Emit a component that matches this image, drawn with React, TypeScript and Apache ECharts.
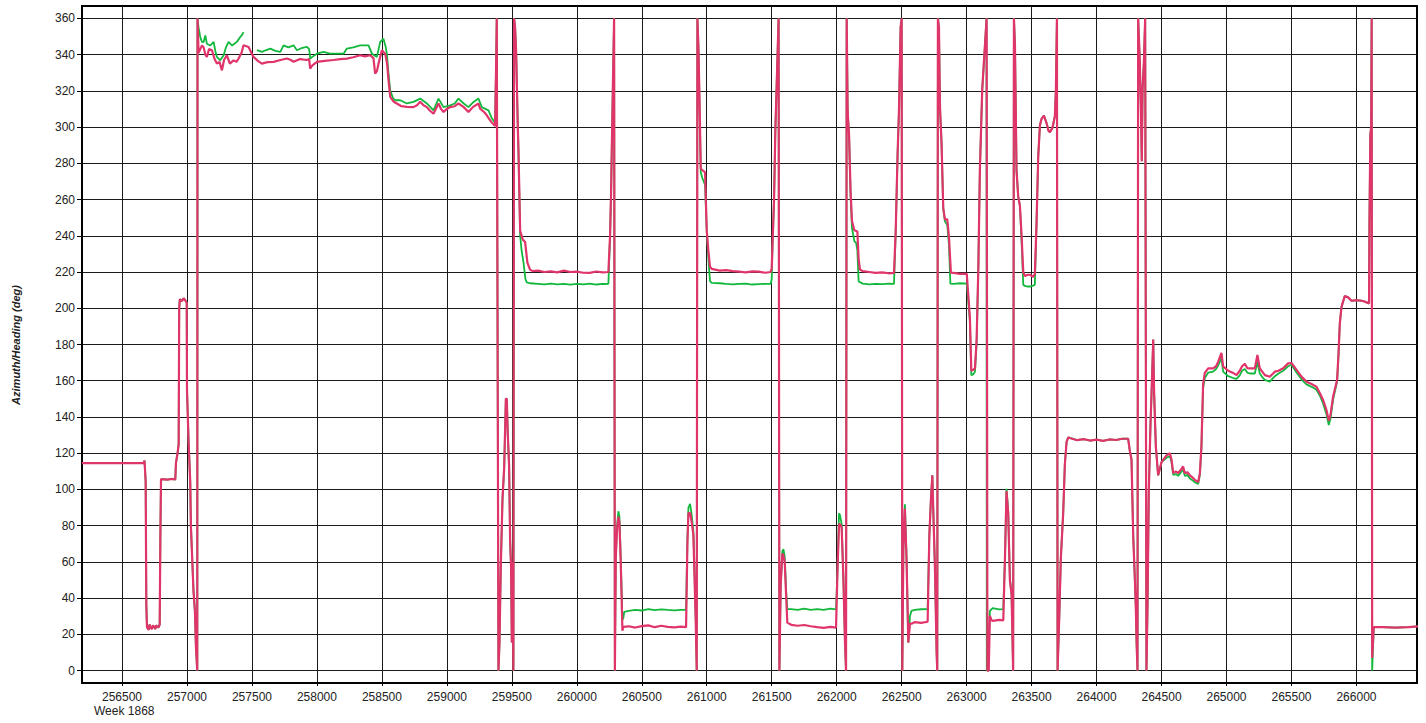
import React, { useEffect, useRef } from 'react';
import * as echarts from 'echarts';

type P = [number, number | null];

const xTicks = [256500, 257000, 257500, 258000, 258500, 259000, 259500, 260000, 260500, 261000, 261500, 262000, 262500, 263000, 263500, 264000, 264500, 265000, 265500, 266000];
const yTicks = [0, 20, 40, 60, 80, 100, 120, 140, 160, 180, 200, 220, 240, 260, 280, 300, 320, 340, 360];

const s1: P[] = [[256192,114.5],[256666,114.5],[256673,116],[256682,104.4],[256687,36.4],[256692,24.1],[256705,22.5],[256712,25.5],[256718,24],[256730,23],[256737,25],[256743,24.5],[256756,23],[256762,25],[256769,24.5],[256780,23.8],[256790,25.5],[256795,73],[256800,105.7],[256850,105.4],[256880,105.8],[256910,105.5],[256915,114.5],[256928,120.4],[256936,125],[256940,200],[256945,205],[256960,204],[256975,205.5],[256990,204],[256998,203],[257000,155],[257012,127],[257025,104],[257030,80],[257050,44],[257061,33],[257069,13],[257079,0],[257081,360]];

const s2Red: P[] = [[257089,341],[257102,343],[257115,345],[257128,344],[257141,340],[257153,338.7],[257170,343],[257192,342.4],[257210,338],[257230,335],[257250,336],[257269,331.3],[257285,337],[257307,339.6],[257330,335],[257358,336.8],[257380,336],[257397,337.8],[257420,341],[257435,345.1],[257474,344.2],[257495,341],[257512,338.7],[257545,336.5],[257576,335],[257620,335.8],[257666,336],[257720,337],[257769,337.8],[257800,337],[257820,336],[257870,337.5],[257922,337],[257940,337.5],[257948,332.3],[257965,334],[258000,336],[258060,336.5],[258128,337],[258180,337.5],[258230,337.8],[258280,338.5],[258333,339.6],[258370,339],[258410,339.6],[258435,338],[258448,329.5],[258462,331],[258474,335],[258500,342.4],[258525,340.5],[258540,335],[258551,325.8],[258564,316.6],[258590,314],[258615,313],[258650,311.5],[258692,311.1],[258743,311],[258770,312],[258795,313.9],[258820,312],[258846,311],[258870,309],[258897,307.4],[258915,310],[258936,313],[258955,310],[258974,308.3],[259000,310],[259025,311],[259060,311.5],[259089,313],[259130,311],[259166,308.3],[259200,311],[259243,313],[259256,310.2],[259290,308],[259307,306.5],[259340,303],[259371,300.5]];
const s2Green: P[] = [[257089,355],[257102,349.7],[257115,347],[257128,346.9],[257141,350.6],[257153,346],[257179,345],[257205,347],[257218,342],[257230,338.7],[257256,336.8],[257282,339.6],[257300,344],[257320,347],[257346,345],[257365,346],[257384,347],[257410,349.7],[257425,351],[257435,352.4],[257440,null],[257538,342.4],[257577,341.5],[257610,342.5],[257641,343.3],[257680,342],[257718,341.5],[257743,345.1],[257780,344],[257820,345.1],[257846,342.4],[257880,343.5],[257923,344.2],[257940,343],[257948,337.8],[257970,339],[258000,340.5],[258051,341.5],[258100,340.5],[258154,340.5],[258205,340.5],[258230,343.3],[258280,344],[258333,345.1],[258397,345.1],[258423,340.5],[258461,338.7],[258487,347],[258512,348.8],[258530,344],[258538,340.5],[258551,329.5],[258564,320.3],[258585,316],[258602,314.8],[258641,314.8],[258692,313],[258743,313.9],[258795,315.7],[258846,313],[258897,309.2],[258936,315.7],[258974,311],[259025,312],[259060,313],[259089,315.7],[259130,313],[259166,311],[259200,313.5],[259243,315.7],[259269,311],[259320,309.2],[259345,305],[259371,302.3]];

const s3: P[] = [[259378,330],[259384,360],[259397,0],[259405,15.6],[259415,57.5],[259428,94.6],[259441,112],[259454,150],[259461,150],[259469,130],[259479,113],[259487,71],[259494,57.5],[259500,15.6],[259505,60],[259512,0],[259517,360]];

const s4Red: P[] = [[259525,355],[259533,341.5],[259546,300],[259551,287],[259559,260],[259564,242.7],[259584,238],[259602,236.6],[259620,225],[259640,221.3],[259660,220.5],[259700,220.8],[259750,220],[259800,220.4],[259850,219.8],[259900,220.8],[259950,220],[260000,220.2],[260050,219.6],[260100,219.5],[260150,220.3],[260200,219.8],[260243,220]];
const s4Green: P[] = [[259525,355],[259533,341.5],[259546,300],[259551,287],[259559,258],[259564,240],[259575,232],[259590,225],[259605,216],[259615,214.3],[259640,213.8],[259700,213.5],[259750,213.2],[259800,213.6],[259850,213.2],[259900,213.5],[259950,213],[260000,213.4],[260050,213.2],[260100,213.6],[260150,213.1],[260200,213.4],[260243,213.5]];

const s5: P[] = [[260256,240],[260264,265],[260269,287],[260277,320],[260287,360],[260293,0]];

const s6Red: P[] = [[260300,63],[260310,78],[260320,85],[260328,82],[260338,60],[260351,22],[260358,24.2],[260400,24.5],[260450,23.8],[260500,24.6],[260550,25],[260600,24],[260650,24.8],[260700,24.2],[260750,23.9],[260800,24.3],[260841,24]];
const s6Green: P[] = [[260300,63],[260310,80],[260320,88],[260328,85],[260338,62],[260351,28],[260358,29],[260365,32.5],[260400,33],[260450,33.6],[260500,33.2],[260550,34],[260600,33.4],[260650,33.8],[260700,33.5],[260750,33.3],[260800,33.6],[260841,33.5]];

const s7Red: P[] = [[260851,70],[260859,87],[260872,87],[260884,82],[260897,75],[260915,28],[260923,0],[260928,360]];
const s7Green: P[] = [[260851,72],[260859,90],[260872,92],[260884,86],[260897,77],[260915,30],[260923,0],[260928,360]];

const s8Red: P[] = [[260936,344],[260943,320],[260954,277],[260987,275],[261000,242.7],[261012,232],[261025,223],[261038,221.7],[261100,220.8],[261150,221],[261200,220.5],[261250,220.2],[261300,219.8],[261350,220.4],[261400,220.2],[261450,219.6],[261492,220],[261500,222]];
const s8Green: P[] = [[260936,344],[260943,318],[260954,275],[260965,272],[260987,268],[261000,242.7],[261012,228],[261025,215],[261038,214],[261100,213.8],[261150,213.4],[261200,213.2],[261250,213.5],[261300,213.6],[261350,213.1],[261400,213.3],[261450,213.5],[261492,213.5],[261500,216]];

const s9: P[] = [[261507,237],[261518,260],[261528,298.5],[261538,323],[261553,360],[261559,0]];

const s10Red: P[] = [[261569,47.4],[261582,64.7],[261590,63.5],[261600,60],[261610,42.6],[261620,26.5],[261650,25.3],[261700,24.8],[261750,25.2],[261800,24.5],[261850,24],[261900,23.6],[261950,24.2],[261995,23.8]];
const s10Green: P[] = [[261569,47.4],[261582,66],[261590,67],[261600,63],[261610,45],[261620,34],[261650,34],[261700,33.6],[261750,34.2],[261800,33.5],[261850,34],[261900,33.5],[261950,34.2],[261995,33.8]];

const s11Red: P[] = [[262007,57.3],[262018,80.7],[262025,81],[262038,79],[262051,52.4],[262064,15.5],[262072,0],[262077,360]];
const s11Green: P[] = [[262007,57.3],[262018,86.8],[262025,86],[262038,81],[262051,52.4],[262064,15.5],[262072,0],[262077,360]];

const s12Red: P[] = [[262084,310.8],[262087,305],[262095,296],[262107,264],[262118,248],[262136,243],[262159,242.4],[262169,227],[262179,221.4],[262200,220.5],[262250,220],[262300,219.5],[262350,219.8],[262400,219.3],[262441,219.5]];
const s12Green: P[] = [[262084,310.8],[262087,305],[262095,296],[262107,262],[262118,244],[262136,237],[262150,236],[262159,232],[262169,214.8],[262200,213.6],[262250,213.2],[262300,213.5],[262350,213.3],[262400,213.6],[262441,213.4]];

const s13: P[] = [[262454,242],[262469,286],[262479,308],[262492,355],[262500,360],[262505,0]];

const s14Red: P[] = [[262513,67],[262525,89.3],[262538,60],[262551,15.5],[262564,26],[262580,26],[262600,26.8],[262650,26.4],[262700,27]];
const s14Green: P[] = [[262513,67],[262525,91.8],[262538,62],[262551,15.5],[262564,30],[262575,33],[262600,33.6],[262650,33.9],[262700,34]];

const s15: P[] = [[262713,74.5],[262725,94.2],[262736,107.8],[262743,89.3],[262756,57.3],[262769,10],[262774,0],[262779,360]];

const s16Red: P[] = [[262787,355],[262795,310.8],[262807,291],[262820,255.4],[262833,249],[262851,249],[262864,239.4],[262879,219.7],[262900,219.5],[262950,219],[263001,219]];
const s16Green: P[] = [[262787,355],[262795,310.8],[262807,291],[262820,255],[262833,248],[262851,246],[262864,235],[262875,213.6],[262900,213.5],[262950,213.8],[263001,213.6]];

const s17Red: P[] = [[263025,195],[263036,165.5],[263050,166],[263064,166.8],[263077,182.8],[263090,222],[263102,276.3],[263120,320.6],[263141,345.2],[263154,360],[263160,0]];
const s17Green: P[] = [[263025,193],[263036,163],[263050,163.5],[263064,165],[263077,181],[263090,222],[263102,276.3],[263120,320.6],[263141,345.2],[263153,360],[263155,0]];

const s18Red: P[] = [[263170,0],[263179,30.3],[263192,27.8],[263200,27.5],[263250,28],[263282,27.8]];
const s18Green: P[] = [[263165,0],[263179,33],[263192,33.9],[263200,34.5],[263250,33.8],[263282,34]];

const s19Red: P[] = [[263295,62],[263307,99.1],[263320,86.8],[263333,49.9],[263346,42],[263358,0],[263364,360]];
const s19Green: P[] = [[263295,62],[263307,100.4],[263320,88],[263333,51],[263346,42],[263358,0],[263364,360]];

const s20Red: P[] = [[263372,345],[263384,276],[263397,261.6],[263410,256.6],[263423,240],[263436,219.7],[263448,217.8],[263470,218.5],[263487,218.5],[263512,217.3],[263525,219]];
const s20Green: P[] = [[263372,345],[263384,276],[263397,261.6],[263410,256.6],[263423,237],[263436,213],[263448,212.3],[263470,212],[263487,212],[263512,212.5],[263525,213]];

const s21: P[] = [[263538,246.8],[263551,283.7],[263564,301],[263577,304.6],[263595,306.3],[263615,302.2],[263630,298],[263641,297.2],[263661,299.7],[263679,305.9],[263687,320.6],[263695,360],[263700,0],[263713,30.2],[263725,62.2],[263743,86.8],[263756,113.9],[263769,126.2],[263782,128.7],[263850,127.2],[263900,127.8],[263950,127],[264000,127.5],[264050,126.8],[264100,127.6],[264150,127.3],[264200,128],[264243,128],[264256,121.3],[264269,116.4],[264282,74.5],[264295,49.9],[264302,35.1],[264308,15.5],[264315,0],[264320,360],[264333,335.4],[264341,310.8],[264348,281.2],[264354,320.6],[264364,335.4],[264374,360],[264384,0],[264392,35],[264402,99],[264415,136],[264423,153],[264436,182.8],[264443,153],[264456,123.8],[264474,107.8],[264500,115.1]];

const s22Red: P[] = [[264538,118.8],[264564,120],[264577,116.4],[264590,109],[264610,110],[264628,109],[264650,111],[264666,112.7],[264679,109],[264700,109.5],[264718,107.8],[264740,106.5],[264756,105.3],[264782,104.1],[264795,109],[264807,123.8],[264820,158.2],[264833,164.3],[264859,166.8],[264897,166.8],[264920,168],[264936,170.5],[264961,175.4],[264974,167.9],[265013,165.5],[265051,164.3],[265077,163.1],[265102,165.5],[265120,168],[265141,169.3],[265160,167],[265179,166.8],[265218,166.8],[265238,174.2],[265256,166.8],[265275,165],[265295,163.1],[265333,162.2],[265372,165],[265400,165.5],[265436,166.9],[265474,169.6],[265500,169.8],[265539,166],[265580,162],[265615,159.5],[265660,158],[265692,156.7],[265720,153],[265743,149.4],[265769,143.9],[265787,138],[265800,141],[265820,151.2],[265851,160.4],[265862,175],[265872,191.7]];
const s22Green: P[] = [[264538,117.5],[264564,118.5],[264577,115],[264590,108],[264610,108.5],[264628,107.5],[264650,109.5],[264666,111],[264679,107.5],[264700,108],[264718,106],[264740,105],[264756,104],[264782,103],[264795,108],[264807,123],[264820,156],[264833,161.5],[264859,164.5],[264897,165],[264920,166.5],[264936,168.5],[264961,172.5],[264974,165],[265013,162.5],[265051,161.5],[265077,161],[265102,163],[265120,165.5],[265141,166.5],[265160,164.5],[265179,164],[265218,164],[265238,170.5],[265256,164],[265275,162],[265295,160.5],[265333,159.5],[265372,162.5],[265400,164],[265436,165.5],[265474,168],[265500,168.8],[265539,164.5],[265580,160.5],[265615,158],[265660,156.5],[265692,155],[265720,151.5],[265743,147.5],[265769,141.5],[265787,135.6],[265800,139],[265820,149.5],[265851,159.5],[265862,174],[265872,191.7]];

const s23: P[] = [[265885,200.8],[265910,206.7],[265936,206],[265962,204.1],[266000,204.5],[266051,204],[266097,202.7],[266100,246.8],[266107,296],[266113,299.7],[266117,360]];

const s24Red: P[] = [[266121,7],[266133,24],[266200,24],[266300,23.8],[266400,24],[266474,24.5]];
const s24Green: P[] = [[266121,0],[266133,24],[266200,24],[266300,23.8],[266400,24],[266474,24.5]];

const segments: { red: P[]; green: P[] }[] = [
  { red: s1, green: s1 },
  { red: s2Red, green: s2Green },
  { red: s3, green: s3 },
  { red: s4Red, green: s4Green },
  { red: s5, green: s5 },
  { red: s6Red, green: s6Green },
  { red: s7Red, green: s7Green },
  { red: s8Red, green: s8Green },
  { red: s9, green: s9 },
  { red: s10Red, green: s10Green },
  { red: s11Red, green: s11Green },
  { red: s12Red, green: s12Green },
  { red: s13, green: s13 },
  { red: s14Red, green: s14Green },
  { red: s15, green: s15 },
  { red: s16Red, green: s16Green },
  { red: s17Red, green: s17Green },
  { red: s18Red, green: s18Green },
  { red: s19Red, green: s19Green },
  { red: s20Red, green: s20Green },
  { red: s21, green: s21 },
  { red: s22Red, green: s22Green },
  { red: s23, green: s23 },
  { red: s24Red, green: s24Green },
];

const redData: P[] = segments.flatMap((s) => s.red);
const greenData: P[] = segments.flatMap((s) => s.green);

const FONT = 'Liberation Sans, Arial, sans-serif';

export default function App() {
  const ref = useRef<HTMLDivElement>(null);
  useEffect(() => {
    if (!ref.current) return;
    const chart = echarts.init(ref.current, undefined, { renderer: 'svg' });
    chart.setOption({
      animation: false,
      backgroundColor: '#ffffff',
      grid: { left: 82, right: 9, top: 6, bottom: 40, show: true, borderColor: '#000', borderWidth: 2, backgroundColor: 'transparent' },
      xAxis: {
        type: 'value',
        min: 256192,
        max: 266466,
        axisLine: { show: true, onZero: false, lineStyle: { color: '#000', width: 2 } },
        axisTick: { show: true, length: 3, customValues: xTicks, lineStyle: { color: '#000' } },
        axisLabel: { customValues: xTicks, margin: 8, fontSize: 12, color: '#222', fontFamily: FONT, formatter: (v: number) => String(v) },
        splitLine: { show: true, lineStyle: { color: '#1a1a1a', width: 1 } },
      },
      yAxis: {
        type: 'value',
        min: -6.8,
        max: 366.8,
        axisLine: { show: true, onZero: false, lineStyle: { color: '#000', width: 2 } },
        axisTick: { show: true, length: 5, customValues: yTicks, lineStyle: { color: '#000' } },
        axisLabel: { customValues: yTicks, margin: 7, fontSize: 12, color: '#222', fontFamily: FONT, formatter: (v: number) => String(v) },
        splitLine: { show: true, lineStyle: { color: '#1a1a1a', width: 1 } },
      },
      graphic: [
        { type: 'text', left: 94, top: 705, style: { text: 'Week 1868', fontSize: 12, fontFamily: FONT, fill: '#222' } },
        { type: 'text', x: 16, y: 345, rotation: Math.PI / 2, style: { text: 'Azimuth/Heading (deg)', font: 'italic bold 11px Liberation Sans, Arial, sans-serif', fill: '#222', align: 'center', verticalAlign: 'middle' } },
      ],
      series: [
        { type: 'line', data: greenData, showSymbol: false, symbol: 'none', connectNulls: false, lineStyle: { color: '#12B83C', width: 1.8 }, itemStyle: { color: '#12B83C' }, z: 2 },
        { type: 'line', data: redData, showSymbol: false, symbol: 'none', connectNulls: false, lineStyle: { color: '#E0356A', width: 2.2 }, itemStyle: { color: '#E0356A' }, z: 3 },
      ],
    });
    return () => chart.dispose();
  }, []);
  return <div ref={ref} style={{ position: 'fixed', left: 0, top: 0, width: 1426, height: 723 }} />;
}
